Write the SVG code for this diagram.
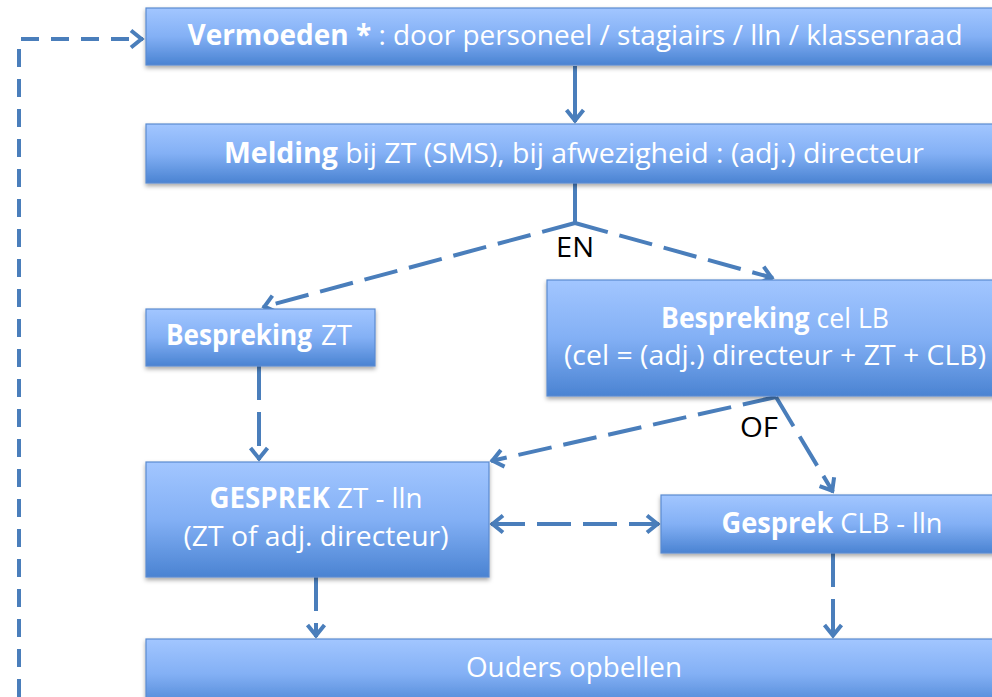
<svg xmlns="http://www.w3.org/2000/svg" width="992" height="697" viewBox="0 0 992 697">
<style>
.box{fill:url(#g);stroke:#5a8bd0;stroke-width:1.2;filter:url(#sh)}
.t{font-family:"Open Sans","Liberation Sans",sans-serif;font-size:28px;fill:#fff;text-anchor:middle}
.s{text-anchor:start}
.b{font-weight:bold}
.lbl{font-family:"Open Sans","Liberation Sans",sans-serif;font-size:28px;fill:#000;text-anchor:middle}
.c{fill:none;stroke:#4a7ebb;stroke-width:4}
.d1{stroke-dasharray:34 12}
.d2{stroke-dasharray:18 12}
</style>
<defs>
<linearGradient id="g" x1="0" y1="0" x2="0" y2="1">
<stop offset="0" stop-color="#a2c6ff"/>
<stop offset="0.5" stop-color="#83b0f5"/>
<stop offset="1" stop-color="#4a83d2"/>
</linearGradient>
<filter id="sh" x="-5%" y="-20%" width="110%" height="150%">
<feDropShadow dx="0" dy="2.5" stdDeviation="2" flood-color="#000" flood-opacity="0.35"/>
</filter>
<marker id="ar" viewBox="-16 -12 20 24" markerWidth="20" markerHeight="24" refX="0" refY="0" orient="auto-start-reverse" markerUnits="userSpaceOnUse">
<path d="M-12,-8.5 L-1.5,0 L-12,8.5" fill="none" stroke="#4a7ebb" stroke-width="4" stroke-linejoin="miter"/>
</marker>
</defs>

<g id="connectors">
<path class="c d2" d="M19,697 L19,39 L143,39" marker-end="url(#ar)"/>
<path class="c" d="M575,66 L575,122" marker-end="url(#ar)"/>
<path class="c" d="M575,183 L575,223"/>
<path class="c d1" d="M575,223 L263,307" marker-end="url(#ar)"/>
<path class="c d1" d="M575,223 L773,278" marker-end="url(#ar)"/>
<path class="c d1" d="M259,366 L259,460" marker-end="url(#ar)"/>
<path class="c d1" d="M776,397 L491,461" marker-end="url(#ar)"/>
<path class="c d1" d="M776,397 L833,492" marker-end="url(#ar)"/>
<path class="c d1" d="M491,524 L659,524" marker-start="url(#ar)" marker-end="url(#ar)"/>
<path class="c d1" d="M316,577 L316,637" marker-end="url(#ar)"/>
<path class="c d1" d="M833,553 L833,637" marker-end="url(#ar)"/>
</g>

<g id="n-vermoeden">
<rect class="box" x="146" y="8" width="858" height="57"/>
<text class="t" x="575" y="45" textLength="775" lengthAdjust="spacingAndGlyphs"><tspan class="b">Vermoeden *</tspan> : door personeel / stagiairs / lln / klassenraad</text>
</g>
<g id="n-melding">
<rect class="box" x="146" y="124" width="858" height="59"/>
<text class="t" x="574" y="163" textLength="700" lengthAdjust="spacingAndGlyphs"><tspan class="b">Melding</tspan> bij ZT (SMS), bij afwezigheid : (adj.) directeur</text>
</g>
<g id="l-en">
<text class="lbl" x="575" y="257" textLength="38" lengthAdjust="spacingAndGlyphs">EN</text>
</g>
<g id="n-bespreking-zt">
<rect class="box" x="146" y="309" width="229" height="57"/>
<text class="t s b" x="166" y="345" textLength="146" lengthAdjust="spacingAndGlyphs">Bespreking</text>
<text class="t s" x="321" y="345" textLength="31" lengthAdjust="spacingAndGlyphs">ZT</text>
</g>
<g id="n-bespreking-cel">
<rect class="box" x="547" y="280" width="457" height="116"/>
<text class="t" x="775" y="328" textLength="228" lengthAdjust="spacingAndGlyphs"><tspan class="b">Bespreking</tspan> cel LB</text>
<text class="t" x="775" y="365" textLength="422" lengthAdjust="spacingAndGlyphs">(cel = (adj.) directeur + ZT + CLB)</text>
</g>
<g id="l-of">
<text class="lbl" x="759" y="437" textLength="38" lengthAdjust="spacingAndGlyphs">OF</text>
</g>
<g id="n-gesprek-zt">
<rect class="box" x="146" y="462" width="343" height="115"/>
<text class="t" x="316" y="508" textLength="213" lengthAdjust="spacingAndGlyphs"><tspan class="b">GESPREK</tspan> ZT - lln</text>
<text class="t" x="316" y="546" textLength="265" lengthAdjust="spacingAndGlyphs">(ZT of adj. directeur)</text>
</g>
<g id="n-gesprek-clb">
<rect class="box" x="661" y="495" width="343" height="58"/>
<text class="t" x="832" y="533" textLength="221" lengthAdjust="spacingAndGlyphs"><tspan class="b">Gesprek</tspan> CLB - lln</text>
</g>
<g id="n-ouders">
<rect class="box" x="146" y="639" width="858" height="70"/>
<text class="t" x="574" y="677" textLength="216" lengthAdjust="spacingAndGlyphs">Ouders opbellen</text>
</g>
</svg>
